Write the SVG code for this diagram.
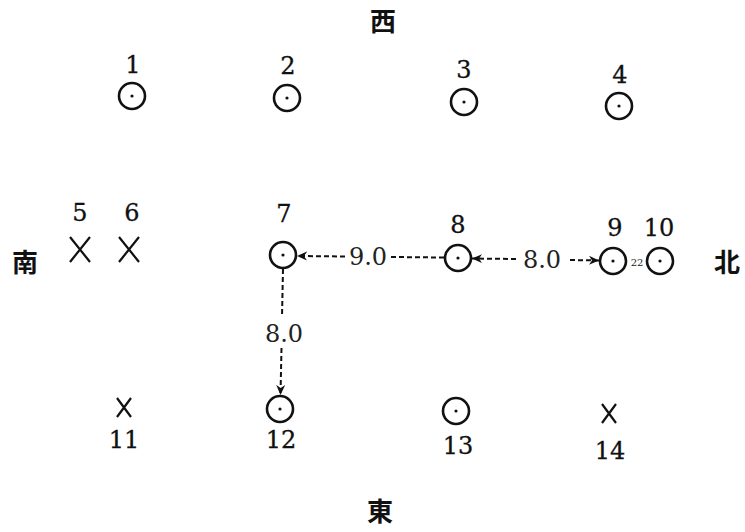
<svg xmlns="http://www.w3.org/2000/svg" width="745" height="532" viewBox="0 0 745 532">
<defs>
<style>
.ring{fill:none;stroke:#111;stroke-width:2.6}
.dot{fill:#111}
.x{stroke:#111;stroke-width:2.2;fill:none}
.num{font-family:'DejaVu Serif',serif;font-size:24px;fill:#111;stroke:#111;stroke-width:0.3;text-anchor:middle}
.dist{font-family:'DejaVu Serif',serif;font-size:24px;fill:#222;text-anchor:middle}
.small{font-family:'DejaVu Serif',serif;font-size:10px;fill:#222;text-anchor:middle}
.dir{font-family:"Noto Sans CJK JP","Noto Sans CJK SC",sans-serif;font-size:26px;fill:#111;text-anchor:middle;font-weight:bold}
.dash{stroke:#111;stroke-width:2;stroke-dasharray:5 3;fill:none}
</style>
<marker id="ah" viewBox="0 0 10 10" refX="10" refY="5" markerWidth="10" markerHeight="10" orient="auto-start-reverse" markerUnits="userSpaceOnUse">
<path d="M0,0.5 L10,5 L0,9.5 L3,5 Z" fill="#111"/>
</marker>
</defs>
<rect width="745" height="532" fill="#fff"/>
<text class="dir" x="383" y="31">西</text>
<text class="dir" x="380" y="521">東</text>
<text class="dir" x="25" y="272">南</text>
<text class="dir" x="727" y="272">北</text>
<g id="n1"><circle class="ring" cx="132" cy="96" r="13"/><circle class="dot" cx="132" cy="96" r="1.6"/><text class="num" x="133" y="73">1</text></g>
<g id="n2"><circle class="ring" cx="287" cy="98" r="13"/><circle class="dot" cx="287" cy="98" r="1.6"/><text class="num" x="288" y="74">2</text></g>
<g id="n3"><circle class="ring" cx="464" cy="102" r="13"/><circle class="dot" cx="464" cy="102" r="1.6"/><text class="num" x="464" y="78">3</text></g>
<g id="n4"><circle class="ring" cx="619" cy="106" r="13"/><circle class="dot" cx="619" cy="106" r="1.6"/><text class="num" x="620" y="83">4</text></g>
<g id="n5"><path class="x" d="M70,237 L90,262 M90,237 L70,262"/><text class="num" x="80" y="221">5</text></g>
<g id="n6"><path class="x" d="M119,237 L139,262 M139,237 L119,262"/><text class="num" x="132" y="221">6</text></g>
<g id="n7"><circle class="ring" cx="283" cy="255" r="13"/><circle class="dot" cx="283" cy="255" r="1.6"/><text class="num" x="284" y="222">7</text></g>
<g id="n8"><circle class="ring" cx="458" cy="258" r="13"/><circle class="dot" cx="458" cy="258" r="1.6"/><text class="num" x="458" y="233">8</text></g>
<g id="n9"><circle class="ring" cx="613" cy="261" r="13"/><circle class="dot" cx="613" cy="261" r="1.6"/><text class="num" x="615" y="236">9</text><text class="small" x="637" y="266">22</text></g>
<g id="n10"><circle class="ring" cx="660" cy="261" r="13"/><circle class="dot" cx="660" cy="261" r="1.6"/><text class="num" x="659" y="236">10</text></g>
<g id="n11"><path class="x" d="M117,398 L131,417 M131,398 L117,417"/><text class="num" x="124" y="448">11</text></g>
<g id="n12"><circle class="ring" cx="280" cy="409" r="13"/><circle class="dot" cx="280" cy="409" r="1.6"/><text class="num" x="281" y="448">12</text></g>
<g id="n13"><circle class="ring" cx="456" cy="411" r="13"/><circle class="dot" cx="456" cy="411" r="1.6"/><text class="num" x="458" y="454">13</text></g>
<g id="n14"><path class="x" d="M602,404 L616,423 M616,404 L602,423"/><text class="num" x="610" y="459">14</text></g>
<g id="connectors">
<line class="dash" x1="345" y1="256.5" x2="297" y2="256" marker-end="url(#ah)"/>
<line class="dash" x1="391" y1="257" x2="444" y2="257.5"/>
<text class="dist" x="368" y="265">9.0</text>
<line class="dash" x1="516" y1="259" x2="472" y2="258.5" marker-end="url(#ah)"/>
<line class="dash" x1="570" y1="260" x2="599" y2="260.5" marker-end="url(#ah)"/>
<text class="dist" x="542" y="268">8.0</text>
<line class="dash" x1="283" y1="269" x2="282" y2="317"/>
<line class="dash" x1="281.5" y1="348" x2="280.5" y2="395" marker-end="url(#ah)"/>
<text class="dist" x="284" y="342">8.0</text>
</g>
</svg>
